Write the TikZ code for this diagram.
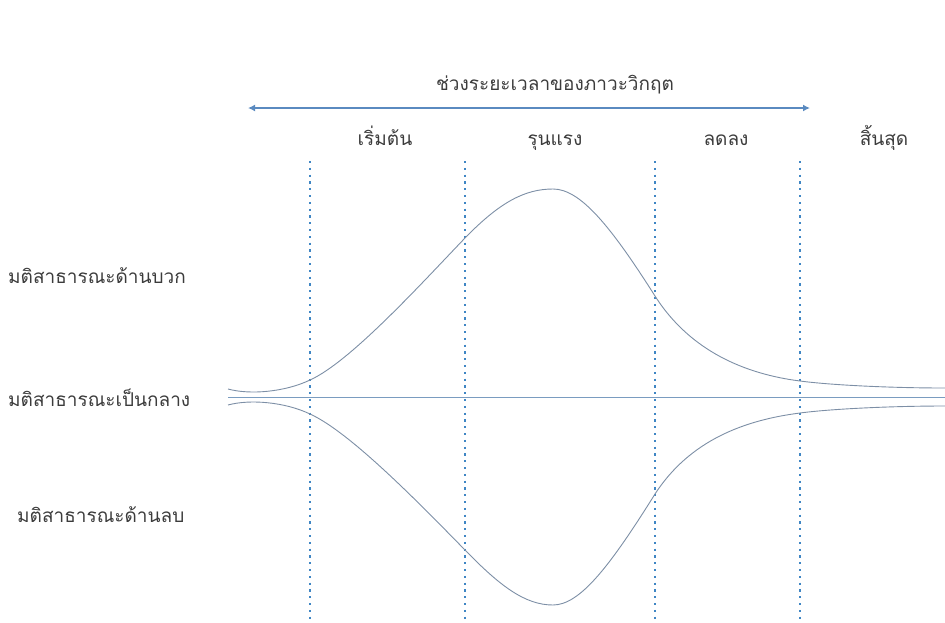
\documentclass[tikz,border=0pt]{standalone}
\usepackage{fontspec}
\newfontfamily\thaifont[Script=Thai]{Loma}
\usepackage{xcolor}
\usetikzlibrary{arrows.meta,positioning}
\definecolor{txtgray}{HTML}{3C3C3C}
\definecolor{barblue}{HTML}{5A8AC0}
\definecolor{dotblue}{HTML}{3F86C4}
\definecolor{curvegray}{HTML}{7D8FA6}
\definecolor{axisblue}{HTML}{7A9CC0}

\begin{document}
\begin{tikzpicture}[x=1pt, y=-1pt,
    every node/.style={font=\thaifont\fontsize{19}{22}\selectfont, text=txtgray, inner sep=0pt},
    phase/.style={anchor=base},
    opinion/.style={anchor=base west},
    guide/.style={dotblue, line width=2.2pt, dash pattern=on 2.2pt off 4.6pt},
    curve/.style={curvegray, line width=0.9pt},
    arrow/.style={{Latex[length=7pt,width=7pt]}-{Latex[length=7pt,width=7pt]}, barblue, line width=2.4pt}
]
\useasboundingbox (0,0) rectangle (945,622);

% time span of the crisis
\node[phase] (span) at (555,90) {ช่วงระยะเวลาของภาวะวิกฤต};
\coordinate (spanL) at (248,108);
\coordinate (spanR) at (810,108);
\draw[arrow] (spanL) -- (spanR);

% phases
\node[phase] (start) at (385,145) {เริ่มต้น};
\node[phase] (peak) at (555,145) {รุนแรง};
\node[phase] (fall) at (726,145) {ลดลง};
\node[phase] (end) at (884,145) {สิ้นสุด};

% opinion levels
\node[opinion] (pos) at (8,283) {มติสาธารณะด้านบวก};
\node[opinion] (neu) at (8,406) {มติสาธารณะเป็นกลาง};
\node[opinion] (neg) at (17,522) {มติสาธารณะด้านลบ};

% phase borders
\foreach \x in {310,465,655,800}
    \draw[guide] (\x,161) -- (\x,622);

% neutral line
\coordinate (midL) at (228,397);
\coordinate (midR) at (945,397);
\draw[axisblue, line width=0.9pt] (midL) -- (midR);

% positive curve
\draw[curve] (228,389) .. controls (250,395) and (285,392) .. (310,380)
    .. controls (350,362) and (420,285) .. (465,238)
    .. controls (500,202) and (525,189) .. (553,189)
    .. controls (580,189) and (610,225) .. (655,296)
    .. controls (690,351) and (745,374) .. (800,381)
    .. controls (830,385) and (890,388) .. (945,388);
% negative curve
\draw[curve] (228,405) .. controls (250,399) and (285,402) .. (310,414)
    .. controls (350,432) and (420,504) .. (465,550)
    .. controls (500,586) and (525,605) .. (553,605)
    .. controls (580,605) and (610,566) .. (655,494)
    .. controls (690,440) and (745,420) .. (800,413)
    .. controls (830,409) and (890,406) .. (945,406);
\end{tikzpicture}
\end{document}
